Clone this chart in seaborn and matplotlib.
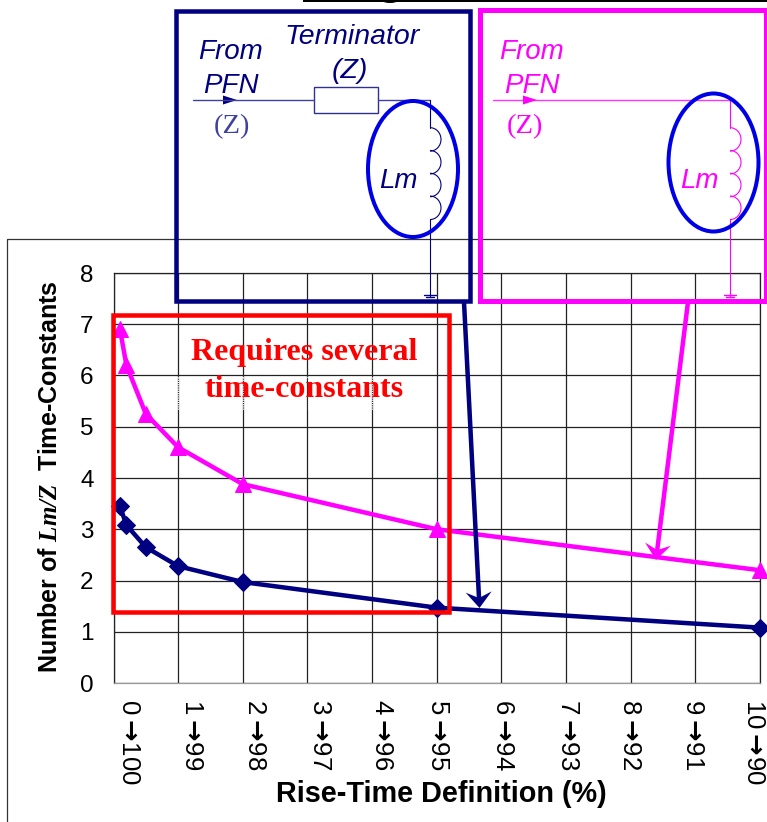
import matplotlib
matplotlib.use('Agg')
import matplotlib.pyplot as plt
from matplotlib.patches import Arc, Ellipse, Rectangle
from matplotlib.transforms import ScaledTranslation
import numpy as np
import pandas as pd
import seaborn as sns

# values
rise_time = [0.1, 0.2, 0.5, 1, 2, 5, 10]
with_terminator = [3.45, 3.08, 2.65, 2.28, 1.97, 1.47, 1.08]
no_terminator = [6.9, 6.2, 5.25, 4.6, 3.88, 3.0, 2.2]
ARROW = r'$\mathrm{\rightarrow}\!$'
x_labels = ['0' + ARROW + '100', '1' + ARROW + '99', '2' + ARROW + '98', '3' + ARROW + '97',
            '4' + ARROW + '96', '5' + ARROW + '95', '6' + ARROW + '94', '7' + ARROW + '93',
            '8' + ARROW + '92', '9' + ARROW + '91', '10' + ARROW + '90']
y_labels = ['0', '1', '2', '3', '4', '5', '6', '7', '8']

NAVY = '#000080'
MAGENTA = '#ff00ff'
BLUE = '#0000e6'
RED = '#ff0000'
W, H = 767, 822
PX = 72 / 100  # one pixel in points


def draw_chart(fig):
    ax = fig.add_axes([113.5 / W, (H - 683) / H, 646.5 / W, 410 / H])
    df = pd.DataFrame({
        'x': rise_time * 2,
        'y': with_terminator + no_terminator,
        'case': ['term'] * 7 + ['none'] * 7,
    })
    sns.lineplot(data=df[df.case == 'term'], x='x', y='y', ax=ax, color=NAVY,
                 marker='D', markersize=9, markeredgecolor=NAVY,
                 linewidth=4.5 * PX, clip_on=False, zorder=5)
    sns.lineplot(data=df[df.case == 'none'], x='x', y='y', ax=ax, color=MAGENTA,
                 marker='^', markersize=11.5, markeredgecolor=MAGENTA,
                 linewidth=4.5 * PX, clip_on=False, zorder=5)
    ax.set_xlim(0, 10)
    ax.set_ylim(0, 8)
    ax.set_xticks(range(11))
    ax.set_xticklabels(x_labels, rotation=-90, fontsize=18.5, color='black', va='top')
    ax.set_yticks(range(9))
    ax.set_yticklabels(y_labels, fontsize=17.5, color='black')
    ax.tick_params(axis='y', length=8 * PX, width=0.7, pad=8.5, color='black')
    ax.tick_params(axis='x', length=6 * PX, width=0.7, pad=7, color='black')
    ax.grid(True, color='#222222', linewidth=0.9)
    ax.set_axisbelow(True)
    for side in ax.spines:
        ax.spines[side].set_color('#222222')
        ax.spines[side].set_linewidth(0.9)
    ax.spines['bottom'].set_color('#999999')
    ax.set_xlabel('')
    ax.set_ylabel('')

    # the tick labels do not sit right under their ticks in the original
    nudge = [16, 14, 12.5, 13, 9.5, 1, 2, 1.5, -1, -2, -6]
    for lab, dx in zip(ax.get_xticklabels(), nudge):
        lab.set_transform(lab.get_transform() + ScaledTranslation(dx / 100, 0, fig.dpi_scale_trans))
    return ax


def draw_coil(ov, x, color):
    ov.plot([x, x], [100, 128], color=color, lw=0.8)
    ov.plot([x, x], [219, 296], color=color, lw=0.8)
    for i in range(4):
        ov.add_patch(Arc((x, 128 + 11.4 * (2 * i + 1)), 22, 23.5,
                         theta1=-90, theta2=90, color=color, lw=0.8))
    ov.plot([x - 6, x + 6], [295, 295], color=color, lw=1.0)
    ov.plot([x - 4, x + 4], [297.5, 297.5], color=color, lw=1.0)


def draw_circuit(ov, color, left, from_x, z_x, coil_x, lm_x, oval, wire_gap=None):
    sans = dict(family='Liberation Sans', style='italic', color=color,
                fontsize=20, ha='center', va='center')
    ov.text(from_x, 52, 'From', **sans)
    ov.text(from_x, 86, 'PFN', **sans)
    ov.text(lm_x, 181, 'Lm', **sans)
    z_color = '#4040a0' if color == NAVY else color
    ov.text(z_x, 127, '(Z)', family='Liberation Serif', fontsize=20.5, color=z_color,
            ha='center', va='center')
    if wire_gap:
        ov.plot([left, wire_gap[0]], [100, 100], color=z_color, lw=1.0)
        ov.plot([wire_gap[1], coil_x], [100, 100], color=z_color, lw=1.0)
    else:
        ov.plot([left, coil_x], [100, 100], color=color, lw=1.0, alpha=0.8)
    ov.fill([left + 30, left + 30, left + 44], [95.5, 104.5, 100], color=color, lw=0)
    draw_coil(ov, coil_x, color)
    ov.add_patch(Ellipse(oval[:2], oval[2], oval[3], fill=False, edgecolor=BLUE,
                         lw=4 * PX, zorder=6))


def draw_arrow(ov, start, tip, color):
    # notched head, the way the original callouts look
    start, tip = np.array(start, float), np.array(tip, float)
    d = (tip - start) / np.linalg.norm(tip - start)
    n = np.array([-d[1], d[0]])
    notch = tip - 10 * d
    left = tip - 16 * d + 13 * n
    right = tip - 16 * d - 13 * n
    ov.plot([start[0], notch[0]], [start[1], notch[1]], color=color, lw=4.5 * PX,
            solid_capstyle='butt', zorder=8)
    ov.fill([tip[0], left[0], notch[0], right[0]], [tip[1], left[1], notch[1], right[1]],
            color=color, lw=0, zorder=8)


def draw_overlay(fig):
    ov = fig.add_axes([0, 0, 1, 1], facecolor='none')
    ov.set_xlim(0, W)
    ov.set_ylim(H, 0)
    ov.axis('off')

    # frame of the pasted chart and the cut off line at the very top
    ov.plot([7, 7, W], [H, 239, 239], color='#333333', lw=0.9)
    ov.add_patch(Rectangle((303, 0), W - 303, 2, color='black', lw=0))
    ov.add_patch(Ellipse((390, 1), 14, 4, color='black', lw=0))

    # the faint text box left over on the grid
    ov.plot([178, 432], [377, 377], color='white', lw=1, ls=(0, (1, 1)))
    for x in [178.2, 242.8, 307.5, 371.6]:
        ov.plot([x, x], [377, 410], color='white', lw=0.8, ls=(0, (1, 1)))

    draw_circuit(ov, NAVY, 193, 231, 232, 430, 398, (413, 169, 90, 136), wire_gap=(314, 378))
    sans = dict(family='Liberation Sans', style='italic', color=NAVY, fontsize=20.5,
                ha='center', va='center')
    ov.text(352, 37, 'Terminator', **sans)
    ov.text(350, 71, '(Z)', **sans)
    ov.add_patch(Rectangle((314, 87), 64, 26, fill=False, edgecolor='#303090', lw=1))

    draw_circuit(ov, MAGENTA, 493, 532, 525, 730, 699, (713.5, 162.5, 90, 138))

    ov.add_patch(Rectangle((176, 11), 294, 290.5, fill=False, edgecolor=NAVY, lw=4.5 * PX, zorder=7))
    ov.add_patch(Rectangle((480, 10.5), 286, 291, fill=False, edgecolor=MAGENTA, lw=5 * PX, zorder=7))
    ov.add_patch(Rectangle((112.5, 315), 336, 296.5, fill=False, edgecolor=RED, lw=4.5 * PX, zorder=7))

    ov.text(304, 352, 'Requires several', family='Liberation Serif', weight='bold',
            color=RED, fontsize=23, ha='center', va='center', zorder=8)
    ov.text(304, 389, 'time-constants', family='Liberation Serif', weight='bold',
            color=RED, fontsize=23, ha='center', va='center', zorder=8)

    draw_arrow(ov, (464, 302), (479.5, 608), NAVY)
    draw_arrow(ov, (688, 302), (656, 560), MAGENTA)

    ov.text(441, 794, 'Rise-Time Definition (%)', family='Liberation Sans', weight='bold',
            fontsize=20.8, ha='center', va='center', color='black')
    ov.text(50, 477, r'Number of $\mathbfit{Lm/Z}$  Time-Constants', family='Liberation Sans',
            weight='bold', fontsize=18, rotation=90, ha='center', va='center', color='black')


if __name__ == '__main__':
    sns.set_theme(style='white')
    plt.rcParams['font.family'] = ['Liberation Sans', 'DejaVu Sans']
    plt.rcParams['mathtext.fontset'] = 'custom'
    plt.rcParams['mathtext.bfit'] = 'Liberation Serif:italic:bold'
    plt.rcParams['mathtext.rm'] = 'DejaVu Sans:bold'
    plt.rcParams['mathtext.default'] = 'regular'
    fig = plt.figure(figsize=(7.67, 8.22), dpi=100)
    draw_chart(fig)
    draw_overlay(fig)
    fig.savefig('out.png', dpi=100)
